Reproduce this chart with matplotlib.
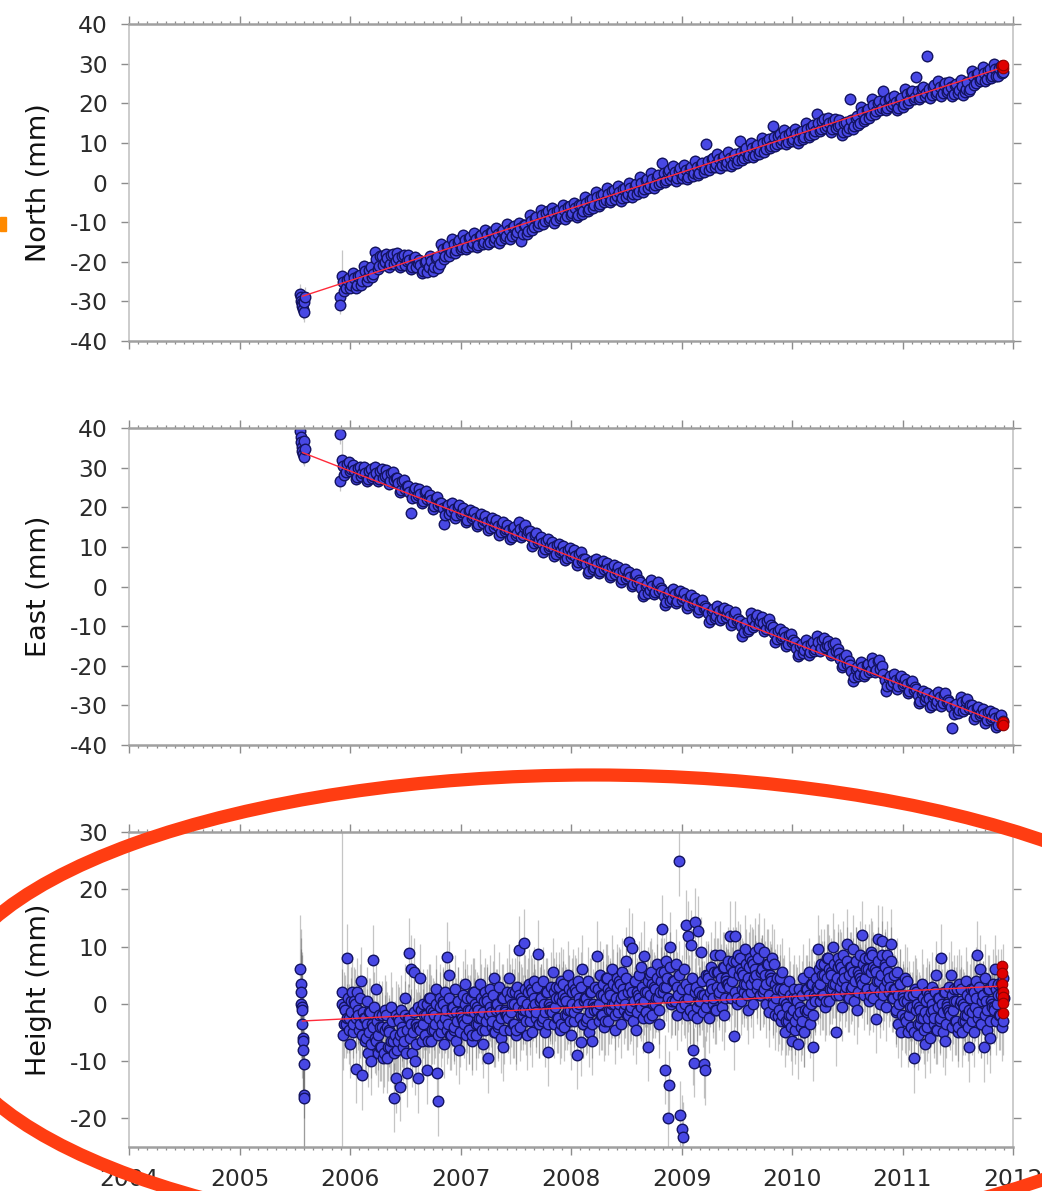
import numpy as np
import matplotlib.pyplot as plt
from matplotlib.patches import Ellipse, Rectangle
from matplotlib.ticker import MultipleLocator

plt.rcParams['font.family'] = ['DejaVu Sans']
plt.rcParams['axes.unicode_minus'] = False

# GPS daily solutions, decimal years. North/East read every 0.025 yr (two
# interleaved sets, *_b half a step later), Height every 0.0125 yr (same idea)
ne_start, ne_step = 2005.925, 0.025
up_start, up_step = 2005.925, 0.0125

north_mm = [
    -23.5, -27.5, -24.5, -26.5, -22.8, -26.5, -23.6, -25.8, -21.0, -24.8, -22.0, -23.9, -17.6, -21.8, -18.6, -20.9,
    -18.0, -21.2, -18.3, -20.5, -17.8, -21.3, -18.6, -20.7, -18.4, -21.9, -19.0, -21.2, -19.6, -22.9, -20.0, -22.6,
    -18.6, -22.4, -19.1, -21.5, -15.6, -19.2, -16.4, -18.5,
    -14.2, -17.8, -14.9, -16.9, -13.2, -16.9, -14.1, -16.0, -12.8, -16.4, -13.6, -15.6, -11.9, -15.6, -12.6, -14.8,
    -11.6, -15.2, -12.2, -14.1, -10.5, -14.3, -11.2, -13.2, -10.2, -14.8, -10.8, -12.9, -8.3, -11.9, -9.0, -11.0,
    -6.9, -10.5, -7.6, -9.5, -6.4, -10.1, -7.2, -9.0,
    -5.6, -9.2, -6.3, -8.3, -5.1, -8.8, -5.8, -7.9, -3.7, -7.3, -4.5, -6.5, -2.4, -6.0, -3.1, -5.0,
    -1.4, -5.0, -2.2, -4.2, -0.9, -4.6, -1.7, -3.6, 0.0, -3.7, -0.8, -2.8, 1.3, -2.3, 0.6, -1.4,
    2.3, -1.4, 1.5, -0.5, 4.9, 0.1, 2.6, 0.8,
    4.1, 0.5, 3.0, 1.2, 4.4, 0.9, 3.5, 1.7, 5.4, 1.8, 4.4, 2.6, 9.6, 3.2, 5.9, 4.0,
    7.3, 3.6, 6.2, 4.4, 7.7, 4.1, 6.6, 4.8, 10.4, 5.8, 8.0, 6.4, 10.0, 6.4, 9.0, 7.2,
    11.3, 7.8, 10.4, 8.6, 14.2, 9.2, 11.8, 10.0,
    13.2, 9.6, 12.3, 10.5, 13.6, 10.0, 12.7, 10.9, 15.0, 11.4, 14.1, 12.3, 17.2, 12.9, 15.5, 13.7,
    16.4, 12.8, 15.5, 13.7, 15.8, 12.1, 14.9, 13.1, 21.0, 13.6, 16.3, 14.5, 19.1, 15.5, 18.2, 16.4,
    21.0, 17.4, 20.1, 18.3, 23.0, 18.3, 21.0, 19.2,
    21.8, 18.2, 20.9, 19.1, 23.7, 20.1, 22.8, 21.0, 26.5, 21.0, 23.7, 21.9, 31.8, 21.4, 24.1, 22.3,
    25.5, 21.9, 24.6, 22.8, 25.4, 21.8, 24.5, 22.7, 25.8, 22.2, 23.5, 23.1, 28.2, 24.6, 27.3, 25.5,
    29.1, 25.5, 28.2, 26.4, 29.8, 26.8, 28.9, 27.6,
]
north_mm_b = [
    -25.1, -26.7, -24.2, -25.8, -24.2, -25.8, -23.3, -24.9, -22.3, -23.9, -21.4, -23.0, -19.4, -21.0, -18.5, -20.1,
    -19.0, -20.6, -18.1, -19.7, -19.1, -20.7, -18.2, -19.8, -19.6, -21.2, -18.7, -20.3, -20.7, -22.3, -19.8, -21.4,
    -19.8, -21.4, -18.9, -20.5, -16.9, -18.5, -16.0, -17.6,
    -15.5, -17.1, -14.6, -16.2, -14.6, -16.2, -13.7, -15.3, -14.2, -15.8, -13.3, -14.9, -13.3, -14.9, -12.4, -14.0,
    -12.9, -14.5, -12.0, -13.6, -11.9, -13.5, -11.0, -12.6, -11.5, -13.1, -10.6, -12.2, -9.6, -11.2, -8.7, -10.3,
    -8.2, -9.8, -7.3, -8.9, -7.8, -9.4, -6.9, -8.5,
    -6.9, -8.5, -6.0, -7.6, -6.5, -8.1, -5.6, -7.2, -5.1, -6.7, -4.2, -5.8, -3.7, -5.3, -2.8, -4.4,
    -2.8, -4.4, -1.9, -3.5, -2.3, -3.9, -1.4, -3.0, -1.4, -3.0, -0.5, -2.1, 0.0, -1.6, 0.9, -0.7,
    0.9, -0.7, 1.8, 0.2, 2.3, 0.7, 3.2, 1.6,
    2.7, 1.1, 3.6, 2.0, 3.1, 1.5, 4.0, 2.4, 4.0, 2.4, 4.9, 3.3, 5.4, 3.8, 6.3, 4.7,
    5.9, 4.3, 6.8, 5.2, 6.3, 4.7, 7.2, 5.6, 7.7, 6.1, 8.6, 7.0, 8.6, 7.0, 9.5, 7.9,
    10.0, 8.4, 10.9, 9.3, 11.4, 9.8, 12.3, 10.7,
    11.8, 10.2, 12.7, 11.1, 12.2, 10.6, 13.1, 11.5, 13.6, 12.0, 14.5, 12.9, 15.0, 13.4, 15.9, 14.3,
    15.0, 13.4, 15.9, 14.3, 14.4, 12.8, 15.3, 13.7, 15.8, 14.2, 16.7, 15.1, 17.7, 16.1, 18.6, 17.0,
    19.6, 18.0, 20.5, 18.9, 20.5, 18.9, 21.4, 19.8,
    20.4, 18.8, 21.3, 19.7, 22.3, 20.7, 23.2, 21.6, 23.2, 21.6, 24.1, 22.5, 23.6, 22.0, 24.5, 22.9,
    24.1, 22.5, 25.0, 23.4, 24.0, 22.4, 24.9, 23.3, 24.4, 22.8, 25.3, 23.7, 26.8, 25.2, 27.7, 26.1,
    27.7, 26.1, 28.6, 27.0, 28.6, 27.0, 29.5, 27.9,
]

east_mm = [
    31.8, 28.2, 30.9, 29.1, 30.7, 27.1, 29.8, 28.0, 30.1, 26.5, 29.2, 27.4, 30.1, 26.5, 29.2, 27.4,
    29.5, 25.9, 28.7, 26.8, 27.4, 23.8, 26.5, 24.7, 25.3, 18.6, 24.4, 22.6, 24.7, 21.1, 23.8, 22.0,
    23.2, 19.6, 22.3, 20.5, 21.1, 15.7, 20.2, 18.4,
    21.0, 17.4, 20.1, 18.3, 19.9, 16.3, 19.0, 17.2, 18.8, 15.2, 17.9, 16.1, 17.8, 14.2, 16.9, 15.1,
    16.7, 13.1, 15.8, 14.0, 15.6, 12.0, 14.7, 12.9, 16.2, 12.4, 15.1, 13.3, 13.9, 10.3, 13.0, 11.2,
    12.4, 8.8, 11.5, 9.7, 11.3, 7.7, 10.4, 8.6,
    10.2, 6.6, 9.3, 7.5, 9.1, 5.5, 8.2, 6.4, 7.0, 3.4, 6.1, 4.3, 7.0, 3.4, 6.1, 4.3,
    5.9, 2.3, 5.0, 3.2, 4.8, 1.2, 3.9, 2.1, 3.7, 0.1, 2.8, 1.0, 1.1, -2.5, 0.2, -1.6,
    1.6, -2.0, 0.7, -1.1, -1.0, -4.6, -1.9, -3.7,
    -0.6, -4.2, -1.5, -3.3, -1.7, -5.3, -2.6, -4.4, -2.8, -6.4, -3.7, -5.5, -5.3, -8.9, -6.2, -8.0,
    -4.9, -8.5, -5.8, -7.6, -6.0, -9.6, -6.9, -8.7, -8.6, -12.5, -9.5, -11.3, -6.7, -10.3, -7.6, -9.4,
    -7.7, -11.3, -8.6, -10.4, -10.3, -13.9, -11.2, -13.0,
    -11.4, -15.0, -12.3, -14.1, -14.0, -17.6, -14.9, -16.7, -13.6, -17.2, -14.5, -16.3, -12.6, -16.2, -13.5, -15.3,
    -13.7, -17.3, -14.6, -16.4, -16.8, -20.4, -17.7, -19.5, -19.9, -23.9, -20.8, -22.6, -19.0, -22.6, -19.9, -21.7,
    -18.0, -21.6, -18.9, -20.7, -22.1, -26.4, -23.0, -24.8,
    -22.2, -25.8, -23.1, -24.9, -23.3, -26.9, -24.2, -26.0, -25.9, -29.5, -26.8, -28.6, -26.9, -30.5, -27.8, -29.6,
    -26.5, -30.1, -27.4, -29.2, -29.1, -35.6, -30.0, -31.8, -27.9, -31.5, -28.8, -30.6, -29.8, -33.4, -30.7, -32.5,
    -30.8, -34.4, -31.7, -33.5, -32.0, -35.5, -33.0, -34.6,
]
east_mm_b = [
    30.4, 28.8, 31.3, 29.7, 29.3, 27.7, 30.2, 28.6, 28.7, 27.1, 29.6, 28.0, 28.7, 27.1, 29.6, 28.0,
    28.1, 26.5, 29.0, 27.4, 26.0, 24.4, 26.9, 25.3, 23.9, 22.3, 24.8, 23.2, 23.3, 21.7, 24.2, 22.6,
    21.8, 20.2, 22.7, 21.1, 19.7, 18.1, 20.6, 19.0,
    19.6, 18.0, 20.5, 18.9, 18.5, 16.9, 19.4, 17.8, 17.4, 15.8, 18.3, 16.7, 16.4, 14.8, 17.3, 15.7,
    15.3, 13.7, 16.2, 14.6, 14.2, 12.6, 15.1, 13.5, 14.6, 13.0, 15.5, 13.9, 12.5, 10.9, 13.4, 11.8,
    11.0, 9.4, 11.9, 10.3, 9.9, 8.3, 10.8, 9.2,
    8.8, 7.2, 9.7, 8.1, 7.7, 6.1, 8.6, 7.0, 5.6, 4.0, 6.5, 4.9, 5.6, 4.0, 6.5, 4.9,
    4.5, 2.9, 5.4, 3.8, 3.4, 1.8, 4.3, 2.7, 2.3, 0.7, 3.2, 1.6, -0.3, -1.9, 0.6, -1.0,
    0.2, -1.4, 1.1, -0.5, -2.4, -4.0, -1.5, -3.1,
    -2.0, -3.6, -1.1, -2.7, -3.1, -4.7, -2.2, -3.8, -4.2, -5.8, -3.3, -4.9, -6.7, -8.3, -5.8, -7.4,
    -6.3, -7.9, -5.4, -7.0, -7.4, -9.0, -6.5, -8.1, -10.0, -11.6, -9.1, -10.7, -8.1, -9.7, -7.2, -8.8,
    -9.1, -10.7, -8.2, -9.8, -11.7, -13.3, -10.8, -12.4,
    -12.8, -14.4, -11.9, -13.5, -15.4, -17.0, -14.5, -16.1, -15.0, -16.6, -14.1, -15.7, -14.0, -15.6, -13.1, -14.7,
    -15.1, -16.7, -14.2, -15.8, -18.2, -19.8, -17.3, -18.9, -21.3, -22.9, -20.4, -22.0, -20.4, -22.0, -19.5, -21.1,
    -19.4, -21.0, -18.5, -20.1, -23.5, -25.1, -22.6, -24.2,
    -23.6, -25.2, -22.7, -24.3, -24.7, -26.3, -23.8, -25.4, -27.3, -28.9, -26.4, -28.0, -28.3, -29.9, -27.4, -29.0,
    -27.9, -29.5, -27.0, -28.6, -30.5, -32.1, -29.6, -31.2, -29.2, -30.8, -28.3, -29.9, -31.2, -32.8, -30.3, -31.9,
    -32.2, -33.8, -31.3, -32.9, -33.3, -34.9, -32.4, -34.0,
]

height_mm = [
    2.0, -5.5, -0.5, -3.5, 8.0, -2.5, -7.0, 0.5, -5.0, 0.5, -11.4, 2.0, -2.0, -3.5, 4.0, -12.5,
    -2.5, -6.5, 0.5, -8.5, -1.5, -10.0, -3.5, 7.7, -6.0, 2.5, -8.5, -2.0, -7.5, -4.0, -9.5, -1.0,
    -2.0, -9.5, -4.5, -7.5, -0.5, -6.5, -16.4, -13.0, -8.0, -2.5, -14.5, -1.0, -5.0, -6.5, 1.0, -12.0,
    -2.5, 8.9, 6.0, -8.5, 5.5, -10.0, -3.5, -13.0, -4.0, 4.5, -6.5, 0.0, -5.5, -2.0, -11.5, 1.0,
    1.0, -6.5, -1.5, -4.5, 2.5, -12.0, -17.0, -0.5, -5.0, 0.5, -7.0, 2.0, 8.2, -3.5, 5.0, -5.5,
    -0.5, -4.5, 2.5, -6.5, 0.5, -8.0, -1.5, -2.5, -3.0, 3.5, -5.5, 1.0, -4.5, -1.0, -6.5, 2.0,
    2.0, -5.5, -0.5, -3.5, 3.5, -2.5, -7.0, 0.5, -4.5, 1.0, -9.5, 2.5, -1.5, -3.0, 4.5, -5.0,
    0.0, -4.0, 3.0, -6.0, 1.0, -7.5, -1.0, -2.0, -2.0, 4.5, -4.5, 2.0, -3.5, 0.0, -5.5, 3.0,
    9.4, -4.0, 1.0, -2.0, 10.6, -1.0, -5.5, 2.0, -3.0, 2.5, -5.0, 4.0, 0.0, -1.5, 8.7, -3.5,
    1.0, -3.0, 4.0, -5.0, 2.0, -8.4, 0.0, -1.0, -1.0, 5.5, -3.5, 3.0, -2.5, 1.0, -4.5, 4.0,
    3.5, -4.0, 1.0, -2.0, 5.0, -1.0, -5.5, 2.0, -3.0, 2.5, -8.9, 4.0, 0.0, -6.6, 6.0, -3.5,
    1.0, -3.0, 4.0, -5.0, 2.0, -6.5, 0.0, -1.0, -0.5, 8.4, -3.0, 5.0, -2.0, 1.5, -4.0, 4.5,
    4.5, -3.0, 2.0, -1.0, 6.0, 0.0, -4.5, 3.0, -1.5, 4.0, -3.5, 5.5, 1.5, 0.0, 7.5, -2.0,
    10.8, -1.0, 9.8, -3.0, 4.0, -4.5, 2.0, 1.0, 0.0, 6.5, -2.5, 8.4, -1.5, 2.0, -7.5, 5.0,
    5.5, -2.0, 3.0, 0.0, 7.0, 1.0, -3.5, 4.0, 13.0, 3.0, -11.5, 7.5, -19.9, -14.2, 10.0, 0.5,
    4.0, 0.5, 7.0, -2.0, 24.9, -19.4, -21.9, -23.2, 0.5, 13.8, -2.0, 11.9, -1.0, 10.3, -8.1, -10.3,
    14.3, -2.5, 12.8, 0.5, 9.1, 1.5, -10.5, -11.6, -0.5, 5.0, -2.5, 6.5, 2.5, 1.0, 8.5, -1.0,
    5.5, 1.5, 8.5, -0.5, 6.5, -2.0, 4.5, 3.5, 3.5, 11.9, 1.0, 7.5, -5.6, 11.9, 0.0, 8.5,
    8.0, 0.5, 5.5, 2.0, 9.5, 3.5, -1.0, 6.5, 2.0, 7.5, 0.0, 9.0, 5.0, 3.5, 9.8, 1.5,
    6.0, 2.0, 9.0, 0.0, 7.0, -1.5, 5.0, 4.0, 0.5, 7.0, -2.0, 4.5, -2.2, 2.5, -3.0, 5.5,
    2.5, -5.0, 0.0, -3.0, 4.0, -2.0, -6.5, 1.0, -4.5, 1.0, -7.1, 2.5, -1.5, -3.0, 4.5, -5.0,
    2.5, -1.5, 5.5, -3.5, 3.5, -7.5, 1.5, 0.5, 3.0, 9.5, 0.5, 7.0, 1.5, 5.0, -0.5, 8.0,
    8.0, 0.5, 5.5, 2.5, 9.9, 3.5, -4.9, 6.5, 1.5, 7.0, -0.5, 8.5, 4.5, 3.0, 10.5, 1.0,
    6.5, 2.5, 9.5, 0.5, 7.5, -1.0, 5.5, 4.5, 4.0, 12.0, 1.5, 8.0, 2.5, 6.0, 0.5, 9.0,
    8.5, 1.0, 6.0, -2.6, 11.3, 4.0, 0.0, 11.0, 1.5, 7.0, -0.5, 8.5, 4.5, 3.0, 10.5, 1.0,
    2.5, -1.5, 5.5, -3.5, 3.5, -5.0, 1.5, 0.5, -2.5, 4.0, -5.0, 1.5, -4.0, -0.5, -9.5, 2.5,
    2.0, -5.5, -0.5, -3.5, 3.5, -2.5, -7.0, 0.5, -4.0, 1.5, -6.0, 3.0, -1.0, -2.5, 5.0, -4.5,
    1.0, -3.0, 8.0, -5.0, 2.0, -6.5, 0.0, -1.0, -1.5, 5.0, -4.0, 2.5, -3.0, 0.5, -5.0, 3.5,
    2.5, -5.0, 0.0, -3.0, 4.0, -2.0, -7.6, 1.0, -3.0, 2.5, -5.0, 4.0, 8.5, -1.5, 6.0, -3.5,
    1.5, -7.6, 4.5, -4.5, 2.5, -6.0, 0.5, -0.5, -0.5, 6.0, -3.0, 3.5, -2.0, 1.5, -4.0, 4.5,
]
height_mm_b = [
    0.0, -3.5, -1.0, -2.5, 1.0, -4.5, -1.5, 2.0, -3.5, 0.0, -2.5, -1.0, -4.5, 1.0, -5.5, -1.5,
    -2.5, -6.0, -3.5, -5.0, -1.5, -7.0, -4.0, -0.5, -6.5, -3.0, -5.5, -4.0, -7.5, -2.0, -8.5, -4.5,
    -4.0, -7.5, -5.0, -6.5, -3.0, -8.5, -5.5, -2.0, -6.5, -3.0, -5.5, -4.0, -7.5, -2.0, -8.5, -4.5,
    -2.5, -6.0, -3.5, -5.0, -1.5, -7.0, -4.0, -0.5, -4.5, -1.0, -3.5, -2.0, -5.5, 0.0, -6.5, -2.5,
    -1.0, -4.5, -2.0, -3.5, 0.0, -5.5, -2.5, 1.0, -3.5, 0.0, -2.5, -1.0, -4.5, 1.0, -5.5, -1.5,
    -0.5, -4.0, -1.5, -3.0, 0.5, -5.0, -2.0, 1.5, -3.5, 0.0, -2.5, -1.0, -4.5, 1.0, -5.5, -1.5,
    0.0, -3.5, -1.0, -2.5, 1.0, -4.5, -1.5, 2.0, -3.0, 0.5, -2.0, -0.5, -4.0, 1.5, -5.0, -1.0,
    0.0, -3.5, -1.0, -2.5, 1.0, -4.5, -1.5, 2.0, -2.5, 1.0, -1.5, 0.0, -3.5, 2.0, -4.5, -0.5,
    1.5, -2.0, 0.5, -1.0, 2.5, -3.0, 0.0, 3.5, -1.5, 2.0, -0.5, 1.0, -2.5, 3.0, -3.5, 0.5,
    1.0, -2.5, 0.0, -1.5, 2.0, -3.5, -0.5, 3.0, -1.5, 2.0, -0.5, 1.0, -2.5, 3.0, -3.5, 0.5,
    1.5, -2.0, 0.5, -1.0, 2.5, -3.0, 0.0, 3.5, -1.5, 2.0, -0.5, 1.0, -2.5, 3.0, -3.5, 0.5,
    1.0, -2.5, 0.0, -1.5, 2.0, -3.5, -0.5, 3.0, -1.0, 2.5, 0.0, 1.5, -2.0, 3.5, -3.0, 1.0,
    2.5, -1.0, 1.5, 0.0, 3.5, -2.0, 1.0, 4.5, 0.0, 3.5, 1.0, 2.5, -1.0, 4.5, -2.0, 2.0,
    3.0, -0.5, 2.0, 0.5, 4.0, -1.5, 1.5, 5.0, -0.5, 3.0, 0.5, 2.0, -1.5, 4.0, -2.5, 1.5,
    3.5, 0.0, 2.5, 1.0, 4.5, -1.0, 2.0, 5.5, 2.0, 5.5, 3.0, 4.5, 1.0, 6.5, 0.0, 4.0,
    4.0, 0.5, 3.0, 1.5, 5.0, -0.5, 2.5, 6.0, 0.0, 3.5, 1.0, 2.5, -1.0, 4.5, -2.0, 2.0,
    3.0, -0.5, 2.0, 0.5, 4.0, -1.5, 1.5, 5.0, 1.0, 4.5, 2.0, 3.5, 0.0, 5.5, -1.0, 3.0,
    5.5, 2.0, 4.5, 3.0, 6.5, 1.0, 4.0, 7.5, 3.0, 6.5, 4.0, 5.5, 2.0, 7.5, 1.0, 5.0,
    6.0, 2.5, 5.0, 3.5, 7.0, 1.5, 4.5, 8.0, 3.5, 7.0, 4.5, 6.0, 2.5, 8.0, 1.5, 5.5,
    6.0, 2.5, 5.0, 3.5, 7.0, 1.5, 4.5, 8.0, 0.0, 3.5, 1.0, 2.5, -1.0, 4.5, -2.0, 2.0,
    0.5, -3.0, -0.5, -2.0, 1.5, -4.0, -1.0, 2.5, -3.0, 0.5, -2.0, -0.5, -4.0, 1.5, -5.0, -1.0,
    2.5, -1.0, 1.5, 0.0, 3.5, -2.0, 1.0, 4.5, 2.5, 6.0, 3.5, 5.0, 1.5, 7.0, 0.5, 4.5,
    6.0, 2.5, 5.0, 3.5, 7.0, 1.5, 4.5, 8.0, 3.0, 6.5, 4.0, 5.5, 2.0, 7.5, 1.0, 5.0,
    6.5, 3.0, 5.5, 4.0, 7.5, 2.0, 5.0, 8.5, 3.5, 7.0, 4.5, 6.0, 2.5, 8.0, 1.5, 5.5,
    6.5, 3.0, 5.5, 4.0, 7.5, 2.0, 5.0, 8.5, 3.0, 6.5, 4.0, 5.5, 2.0, 7.5, 1.0, 5.0,
    2.5, -1.0, 1.5, 0.0, 3.5, -2.0, 1.0, 4.5, -3.0, 0.5, -2.0, -0.5, -4.0, 1.5, -5.0, -1.0,
    0.0, -3.5, -1.0, -2.5, 1.0, -4.5, -1.5, 2.0, -2.5, 1.0, -1.5, 0.0, -3.5, 2.0, -4.5, -0.5,
    1.0, -2.5, 0.0, -1.5, 2.0, -3.5, -0.5, 3.0, -2.0, 1.5, -1.0, 0.5, -3.0, 2.5, -4.0, 0.0,
    0.5, -3.0, -0.5, -2.0, 1.5, -4.0, -1.0, 2.5, -1.5, 2.0, -0.5, 1.0, -2.5, 3.0, -3.5, 0.5,
    1.5, -2.0, 0.5, -1.0, 2.5, -3.0, 0.0, 3.5, -1.0, 2.5, 0.0, 1.5, -2.0, 3.5, -3.0, 1.0,
]

# first occupation (mid 2005) and the first two days after the restart
north_early_t = [2005.550, 2005.555, 2005.560, 2005.565, 2005.570, 2005.575, 2005.580, 2005.585, 2005.590, 2005.910, 2005.912]
north_early = [-28.2, -29.0, -29.8, -30.5, -31.2, -32.0, -32.6, -30.2, -28.8, -28.8, -30.8]
east_early_t = [2005.550, 2005.555, 2005.560, 2005.565, 2005.570, 2005.575, 2005.580, 2005.585, 2005.590, 2005.910, 2005.912]
east_early = [39.2, 37.8, 36.5, 35.2, 34.2, 33.5, 32.8, 36.8, 34.8, 38.4, 26.5]
height_early_t = [2005.550, 2005.553, 2005.556, 2005.559, 2005.562, 2005.565, 2005.568,
                  2005.571, 2005.574, 2005.577, 2005.580, 2005.583, 2005.586]
height_early = [6.0, 3.5, 2.0, 0.0, -0.5, -1.0, -3.5, -6.0, -6.5, -8.0, -10.5, -16.0, -16.5]

# formal errors (mm): typical, first day after restart, 2005 occupation
ne_sigma, ne_sigma_first, ne_sigma_early = 1.5, 6.5, 2.5
up_sigma, up_sigma_first, up_sigma_early = 6.0, 30.0, 9.5

# last processed days (red)
last_t = [2011.900, 2011.905, 2011.910]
north_last = [29.3, 29.0, 29.6]
east_last = [-34.6, -34.3, -35.0]
height_last_t = [2011.900, 2011.902, 2011.904, 2011.906, 2011.908, 2011.910, 2011.912]
height_last = [6.6, 5.4, 3.5, 2.0, 1.2, 0.2, -1.6]

# linear fits (red line)
fit_t = [2005.57, 2011.90]
north_fit = [-28.7, 29.0]
east_fit = [33.8, -34.6]
height_fit = [-3.0, 3.1]

years = list(range(2004, 2013))

fig = plt.figure(figsize=(10.42, 11.91), dpi=100)

BLUE_F, BLUE_E = '#4848e4', '#131360'
RED_F, RED_E = '#e00000', '#900000'
TICK = '#8c8c8c'


def series(start, step, a, b):
    ta = start + step * np.arange(len(a))
    tb = start + step / 2 + step * np.arange(len(b))
    t = np.concatenate([ta, tb])
    y = np.concatenate([a, b])
    order = np.argsort(t, kind='stable')
    return t[order], y[order]


def draw_panel(rect, t, y, sig, sig_first, et, ey, esig, fy, lt, ly, ylim, yticks, label, xlabels):
    ax = fig.add_axes(rect)
    s = np.full(len(y), sig)
    s[0] = sig_first
    eb = dict(fmt='none', ecolor='#404040', elinewidth=0.9, alpha=0.3, zorder=1)
    ax.errorbar(t, y, yerr=s, **eb)
    ax.errorbar(et, ey, yerr=esig, **eb)
    kw = dict(ls='none', marker='o', ms=7.6, mfc=BLUE_F, mec=BLUE_E, mew=1.0, zorder=2)
    ax.plot(et, ey, **kw)
    ax.plot(t, y, **kw)
    ax.plot(fit_t, fy, color='#ff2a3a', lw=1.0, zorder=3)
    ax.plot(lt, ly, ls='none', marker='o', ms=7.6, mfc=RED_F, mec=RED_E, mew=0.8, zorder=4)

    ax.set_xlim(2004, 2012)
    ax.set_ylim(*ylim)
    ax.set_yticks(yticks)
    ax.set_xticks(years)
    ax.xaxis.set_minor_locator(MultipleLocator(1 / 12))
    ax.tick_params(axis='both', which='major', direction='out', length=5.8, width=1.0,
                   color=TICK, labelsize=16.8, labelcolor='#2a2a2a', top=True, right=True, pad=9.5)
    ax.tick_params(axis='x', which='minor', direction='out', length=2.4, width=0.9,
                   color=TICK, top=True)
    ax.tick_params(axis='y', which='minor', left=False, right=False)
    ax.tick_params(axis='y', which='major', right=True, labelright=False)
    if not xlabels:
        ax.tick_params(axis='x', labelbottom=False)
    for side in ('top', 'bottom'):
        ax.spines[side].set_color('#a0a0a0')
        ax.spines[side].set_linewidth(1.8)
    for side in ('left', 'right'):
        ax.spines[side].set_color('#c4c4c4')
        ax.spines[side].set_linewidth(1.2)
    ax.set_ylabel(label, fontsize=19.5, color='#111111')
    ax.yaxis.set_label_coords(-0.087, 0.5)
    return ax


left, width = 129 / 1042, 884 / 1042
h_ne = 317 / 1191

t_n, y_n = series(ne_start, ne_step, north_mm, north_mm_b)
draw_panel([left, 1 - 341 / 1191, width, h_ne], t_n, y_n, ne_sigma, ne_sigma_first,
           north_early_t, north_early, ne_sigma_early, north_fit, last_t, north_last,
           (-40, 40), range(-40, 41, 10), 'North (mm)', False)

t_e, y_e = series(ne_start, ne_step, east_mm, east_mm_b)
draw_panel([left, 1 - 745 / 1191, width, h_ne], t_e, y_e, ne_sigma, ne_sigma_first,
           east_early_t, east_early, ne_sigma_early, east_fit, last_t, east_last,
           (-40, 40), range(-40, 41, 10), 'East (mm)', False)

t_u, y_u = series(up_start, up_step, height_mm, height_mm_b)
draw_panel([left, 1 - 1147 / 1191, width, 315 / 1191], t_u, y_u, up_sigma, up_sigma_first,
           height_early_t, height_early, up_sigma_early, height_fit, height_last_t, height_last,
           (-25, 30), range(-20, 31, 10), 'Height (mm)', True)

# annotation marks drawn over the figure
fig.add_artist(Ellipse((593 / 1042, 1 - 1010 / 1191), 1300 / 1042, 470 / 1191,
                       transform=fig.transFigure, fill=False, ec='#ff3d12', lw=9.5, zorder=20,
                       clip_on=False))
fig.add_artist(Rectangle((0, 1 - 231 / 1191), 6 / 1042, 14 / 1191, transform=fig.transFigure,
                         color='#ff8a00', zorder=20))

fig.savefig('out.png', dpi=100)
